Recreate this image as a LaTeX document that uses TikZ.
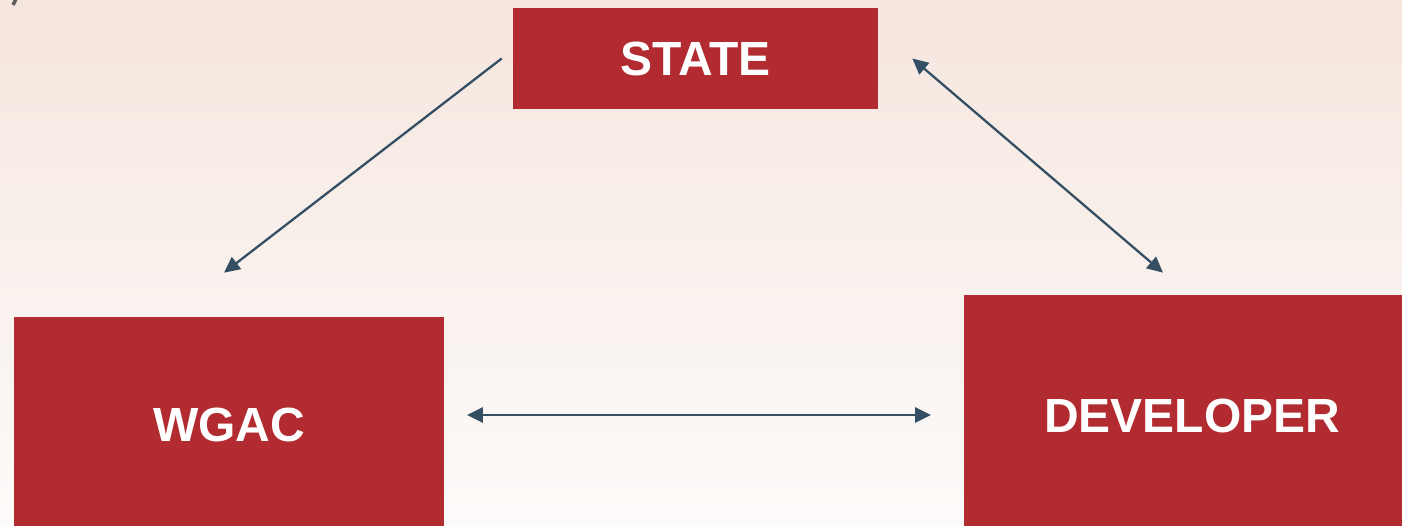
\documentclass[tikz,border=0pt]{standalone}
\usepackage{fontspec}
\setmainfont{Liberation Sans}
\usetikzlibrary{positioning}
\usetikzlibrary{arrows.meta}
\definecolor{boxred}{RGB}{177,43,48}
\definecolor{linkblue}{RGB}{52,78,99}
\definecolor{bgtop}{RGB}{245,230,222}
\definecolor{bgbottom}{RGB}{253,251,250}

\begin{document}
\begin{tikzpicture}[x=0.02cm, y=-0.02cm,
    actor/.style={fill=boxred, text=white, inner sep=0pt,
      font=\bfseries\fontsize{27.3}{32}\selectfont},
    link/.style={linkblue, line width=1.3pt, -{Triangle[length=9pt,width=8.5pt]}},
    both/.style={link, {Triangle[length=9pt,width=8.5pt]}-{Triangle[length=9pt,width=8.5pt]}}]
  \useasboundingbox (0,0) rectangle (1402,526);
  \shade[top color=bgtop, bottom color=bgbottom] (0,0) rectangle (1402,526);
  \draw[gray!70!black, line width=2pt] (13,5) -- (16,-1);

  \node[actor, minimum width=7.3cm, minimum height=2.02cm] (state) at (695.5,58.5) {STATE};
  \node[actor, minimum width=8.6cm, minimum height=4.32cm] (wgac) at (229,425) {WGAC};
  \node[actor, minimum width=9.12cm, minimum height=4.84cm] (developer) at (1192,416) {DEVELOPER};

  \coordinate[left=0.22cm of state.west] (s1);
  \coordinate[above left=0.88cm and 0.1cm of wgac.north] (w1);
  \coordinate[right=0.68cm of state.east] (s2);
  \coordinate[above left=0.44cm and 0.58cm of developer.north] (d1);
  \coordinate (w2) at (467,415);
  \coordinate (d2) at (931,415);

  \draw[link] (s1) -- (w1);
  \draw[both] (s2) -- (d1);
  \draw[both] (w2) -- (d2);
\end{tikzpicture}
\end{document}
